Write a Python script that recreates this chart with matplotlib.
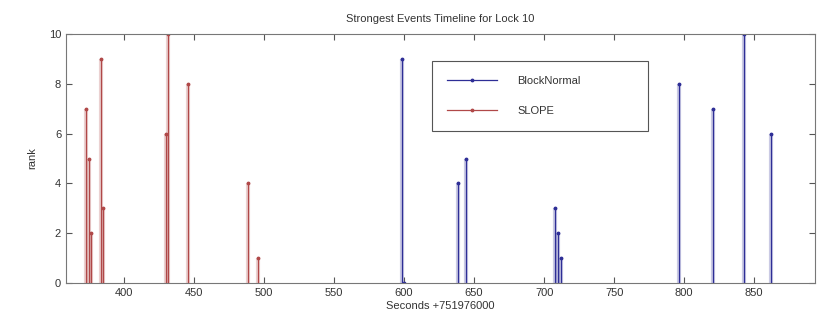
import matplotlib.pyplot as plt

# event times (seconds + 751976000) and their rank
slope_t = [373, 374.6, 376.3, 383.7, 385.1, 430.2, 431.7, 445.6, 488.2, 495.7]
slope_rank = [7, 5, 2, 9, 3, 6, 10, 8, 4, 1]

block_t = [598.6, 600.0, 638.5, 644.2, 708.1, 710.0, 712.1, 796.2, 820.5, 843.0, 862.0]
block_rank = [9, 0, 4, 5, 3, 2, 1, 8, 7, 10, 6]

plt.rcParams['font.family'] = ['Liberation Sans', 'DejaVu Sans']
plt.rcParams['font.size'] = 8

fig = plt.figure(figsize=(8.21, 3.23), dpi=100)
ax = fig.add_axes([0.0804, 0.1238, 0.9123, 0.7709])

blue = '#2e2e96'
red = '#b04848'

for t, r in zip(block_t, block_rank):
    ax.plot([t, t], [0, r], color=blue, lw=3, alpha=0.25, solid_capstyle='butt')
ax.vlines(block_t, 0, block_rank, color=blue, lw=0.9)
ax.plot(block_t, block_rank, '.', color=blue, ms=3.5)
ax.plot([], [], '-', marker='.', color=blue, lw=0.9, ms=3.5, label='BlockNormal')

for t, r in zip(slope_t, slope_rank):
    ax.plot([t, t], [0, r], color=red, lw=3, alpha=0.25, solid_capstyle='butt')
ax.vlines(slope_t, 0, slope_rank, color=red, lw=0.9)
ax.plot(slope_t, slope_rank, '.', color=red, ms=3.5)
ax.plot([], [], '-', marker='.', color=red, lw=0.9, ms=3.5, label='SLOPE')

ax.set_xlim(358.5, 893.5)
ax.set_ylim(0, 10)
ax.set_xticks(range(400, 851, 50))
ax.set_yticks(range(0, 11, 2))
ax.tick_params(direction='in', top=True, right=True, length=4, colors='#555555',
               labelcolor='#333333', labelsize=8)
for s in ax.spines.values():
    s.set_color('#777777')

ax.set_title('Strongest Events Timeline for Lock 10', fontsize=8, color='#333333', pad=9)
ax.set_xlabel('Seconds +751976000', fontsize=8, color='#333333', labelpad=2)
ax.set_ylabel('rank', fontsize=8, color='#333333', labelpad=8)

leg = ax.legend(loc='upper left', bbox_to_anchor=(0.489, 0.614, 0.288, 0.278),
                mode='expand', fancybox=False, framealpha=1, edgecolor='#555555',
                handlelength=4.5, handletextpad=1.8, borderpad=1.35, labelspacing=1.8,
                fontsize=8, borderaxespad=0)
leg.get_frame().set_linewidth(0.8)
for txt in leg.get_texts():
    txt.set_color('#333333')

fig.savefig('out.png', dpi=100)
